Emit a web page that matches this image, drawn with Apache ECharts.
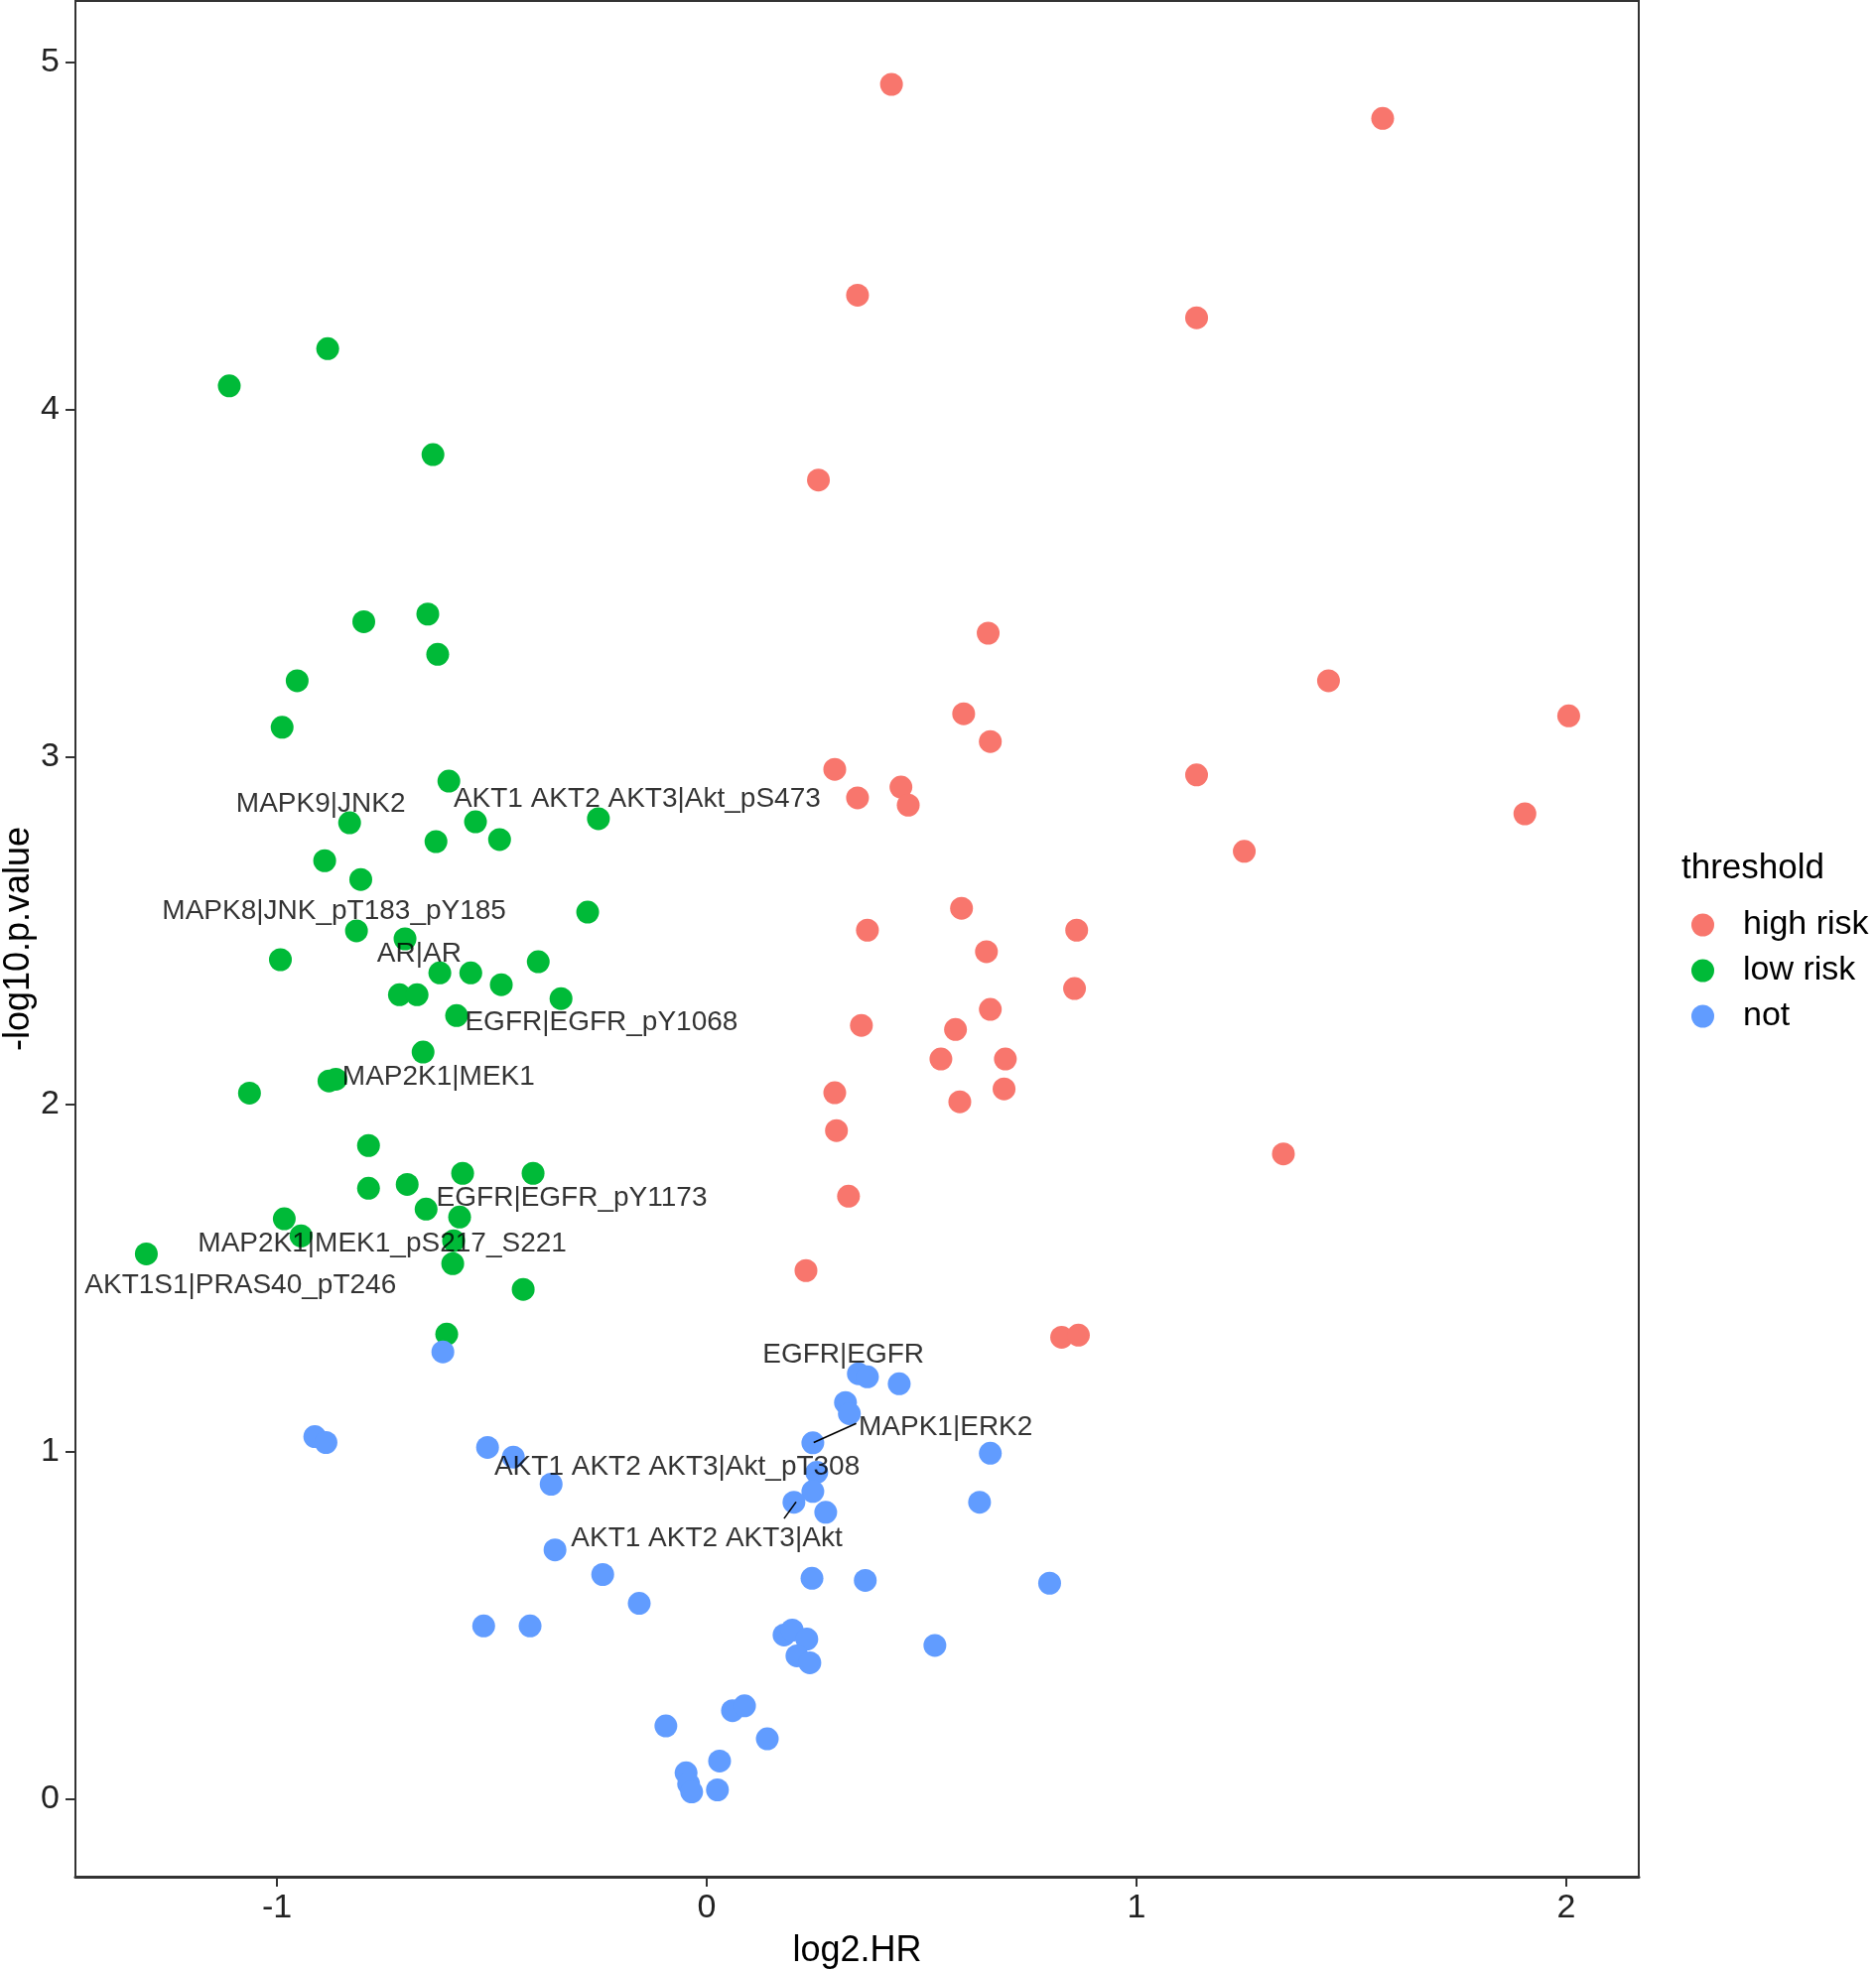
<!DOCTYPE html>
<html>
<head>
<meta charset="utf-8">
<title>volcano</title>
<script src="https://cdn.jsdelivr.net/npm/echarts@6/dist/echarts.min.js"></script>
<style>
  html, body { margin: 0; padding: 0; background: #fff; }
  #chart { width: 1890px; height: 1985px; }
</style>
</head>
<body>
<div id="chart"></div>
<script>
// log2.HR, -log10.p.value
const highRisk = [
  [0.430, 4.937], [1.573, 4.839], [0.351, 4.330], [1.140, 4.265], [0.260, 3.798],
  [0.655, 3.357], [1.447, 3.220], [2.006, 3.119], [0.598, 3.125], [0.660, 3.045],
  [0.298, 2.965], [1.140, 2.949], [0.452, 2.914], [0.351, 2.883], [0.469, 2.862],
  [1.904, 2.837], [1.251, 2.729], [0.593, 2.565], [0.374, 2.502], [0.861, 2.502],
  [0.651, 2.440], [0.856, 2.334], [0.660, 2.274], [0.360, 2.228], [0.579, 2.216],
  [0.545, 2.131], [0.695, 2.131], [0.692, 2.045], [0.298, 2.034], [0.589, 2.008],
  [0.302, 1.925], [1.342, 1.858], [0.330, 1.736], [0.231, 1.522], [0.826, 1.330],
  [0.865, 1.336]
];

const lowRisk = [
  [-0.882, 4.176], [-1.111, 4.069], [-0.637, 3.871], [-0.649, 3.412], [-0.798, 3.390],
  [-0.626, 3.296], [-0.953, 3.220], [-0.988, 3.086], [-0.600, 2.931], [-0.831, 2.811],
  [-0.538, 2.814], [-0.252, 2.823], [-0.630, 2.757], [-0.482, 2.763], [-0.889, 2.702],
  [-0.805, 2.648], [-0.277, 2.554], [-0.815, 2.500], [-0.702, 2.477], [-0.992, 2.417],
  [-0.621, 2.379], [-0.549, 2.379], [-0.478, 2.345], [-0.392, 2.411], [-0.715, 2.316],
  [-0.674, 2.316], [-0.339, 2.305], [-0.582, 2.256], [-0.660, 2.151], [-0.879, 2.068],
  [-0.863, 2.073], [-1.064, 2.033], [-0.787, 1.882], [-0.568, 1.802], [-0.404, 1.802],
  [-0.787, 1.759], [-0.697, 1.770], [-0.653, 1.699], [-0.575, 1.676], [-0.983, 1.671],
  [-0.944, 1.622], [-0.589, 1.608], [-1.304, 1.570], [-0.591, 1.542], [-0.427, 1.468],
  [-0.605, 1.339]
];

const notSig = [
  [-0.614, 1.288], [0.353, 1.225], [0.374, 1.216], [0.448, 1.196], [0.323, 1.142],
  [0.332, 1.110], [0.247, 1.026], [0.256, 0.941], [0.247, 0.886], [0.203, 0.855],
  [0.277, 0.826], [0.660, 0.996], [0.635, 0.855], [0.245, 0.636], [0.369, 0.630],
  [0.798, 0.622], [-0.510, 1.013], [-0.450, 0.985], [-0.362, 0.907], [-0.353, 0.718],
  [-0.242, 0.647], [-0.157, 0.564], [-0.519, 0.499], [-0.411, 0.499], [0.180, 0.473],
  [0.199, 0.487], [0.233, 0.461], [0.210, 0.413], [0.240, 0.393], [0.531, 0.443],
  [0.060, 0.255], [0.088, 0.269], [-0.095, 0.211], [0.141, 0.174], [0.030, 0.110],
  [-0.048, 0.076], [-0.042, 0.044], [-0.035, 0.021], [0.025, 0.027], [-0.912, 1.044],
  [-0.886, 1.027]
];

// text labels (repelled positions, data units)
const geneLabels = [
  [-0.898, 2.865, 'MAPK9|JNK2'],
  [-0.162, 2.880, 'AKT1 AKT2 AKT3|Akt_pS473'],
  [-0.867, 2.556, 'MAPK8|JNK_pT183_pY185'],
  [-0.669, 2.434, 'AR|AR'],
  [-0.245, 2.236, 'EGFR|EGFR_pY1068'],
  [-0.624, 2.079, 'MAP2K1|MEK1'],
  [-0.314, 1.730, 'EGFR|EGFR_pY1173'],
  [-0.755, 1.599, 'MAP2K1|MEK1_pS217_S221'],
  [-1.085, 1.479, 'AKT1S1|PRAS40_pT246'],
  [0.318, 1.279, 'EGFR|EGFR'],
  [0.556, 1.070, 'MAPK1|ERK2'],
  [-0.069, 0.956, 'AKT1 AKT2 AKT3|Akt_pT308'],
  [0.000, 0.750, 'AKT1 AKT2 AKT3|Akt']
];

// leader segments
const segErk2 = [[0.249, 1.027], [0.348, 1.082]];
const segAkt = [[0.208, 0.856], [0.180, 0.808]];

const xTicks = [-1, 0, 1, 2];
const yTicks = [0, 1, 2, 3, 4, 5];

const FONT = 'Liberation Sans, Arial, sans-serif';

var myChart = echarts.init(document.getElementById('chart'));

function pointSeries(name, data, color) {
  return {
    name: name,
    type: 'scatter',
    data: data,
    symbol: 'circle',
    symbolSize: 23,
    itemStyle: { color: color, opacity: 1 },
    silent: true,
    z: 2,
  };
}

function segSeries(data) {
  return {
    type: 'line',
    data: data,
    showSymbol: false,
    symbol: 'none',
    lineStyle: { color: '#000', width: 1.6 },
    silent: true,
    z: 3,
  };
}

const option = {
  animation: false,
  backgroundColor: '#fff',
  title: {
    text: 'threshold',
    left: 1694,
    top: 858,
    padding: 0,
    textStyle: { fontFamily: FONT, fontSize: 35, fontWeight: 'normal', color: '#000' },
  },
  legend: {
    data: ['high risk', 'low risk', 'not'],
    orient: 'vertical',
    left: 1704,
    top: 914,
    padding: 0,
    itemWidth: 23,
    itemHeight: 23,
    itemGap: 10,
    icon: 'circle',
    selectedMode: false,
    textStyle: {
      fontFamily: FONT,
      fontSize: 34,
      lineHeight: 36,
      color: '#000',
      padding: [0, 0, 0, 24],
    },
  },
  grid: {
    left: 76,
    right: 239,
    top: 1,
    bottom: 94,
    outerBoundsMode: 'none',
    containLabel: false,
    show: true,
    borderColor: '#333',
    borderWidth: 2,
    backgroundColor: '#fff',
  },
  xAxis: {
    type: 'value',
    min: -1.469,
    max: 2.169,
    name: 'log2.HR',
    nameLocation: 'middle',
    nameGap: 57,
    nameTextStyle: { fontFamily: FONT, fontSize: 36, color: '#000' },
    axisLine: { show: true, onZero: false, lineStyle: { color: '#333', width: 3 } },
    axisTick: { show: true, length: 10, customValues: xTicks, lineStyle: { color: '#333', width: 2 } },
    axisLabel: { customValues: xTicks, fontFamily: FONT, fontSize: 34, color: '#222', margin: 15 },
    splitLine: { show: false },
  },
  yAxis: {
    type: 'value',
    min: -0.223,
    max: 5.177,
    name: '-log10.p.value',
    nameLocation: 'middle',
    nameGap: 39,
    nameMoveOverlap: false,
    nameTextStyle: { fontFamily: FONT, fontSize: 36, color: '#000' },
    axisLine: { show: true, onZero: false, lineStyle: { color: '#333', width: 2 } },
    axisTick: { show: true, length: 10, customValues: yTicks, lineStyle: { color: '#333', width: 2 } },
    axisLabel: { customValues: yTicks, fontFamily: FONT, fontSize: 34, color: '#222', margin: 16 },
    splitLine: { show: false },
  },
  series: [
    pointSeries('high risk', highRisk, '#F8766D'),
    pointSeries('low risk', lowRisk, '#00BA38'),
    pointSeries('not', notSig, '#619CFF'),
    segSeries(segErk2),
    segSeries(segAkt),
    {
      name: 'labels',
      type: 'scatter',
      data: geneLabels,
      symbolSize: 0,
      silent: true,
      z: 4,
      label: {
        show: true,
        position: 'inside',
        formatter: function (p) { return p.value[2]; },
        fontFamily: FONT,
        fontSize: 28,
        color: '#000',
      },
    },
  ],
};
myChart.setOption(option);
</script>
</body>
</html>
